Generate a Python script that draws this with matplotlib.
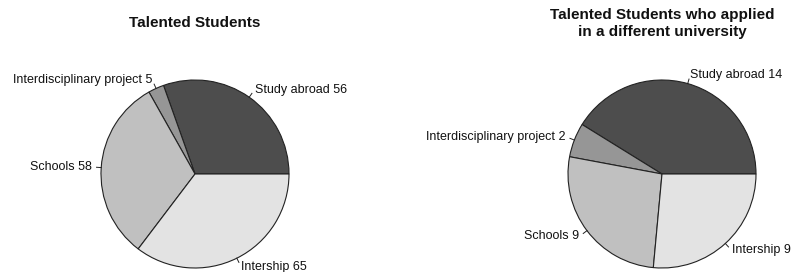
import numpy as np
import matplotlib
matplotlib.use("Agg")
import matplotlib.pyplot as plt

categories = ["Study abroad", "Interdisciplinary project", "Schools", "Intership"]
all_students = [56, 5, 58, 65]
diff_univ = [14, 2, 9, 9]
colors = ["#4D4D4D", "#969696", "#C0C0C0", "#E3E3E3"]
titles = ["Talented Students", "Talented Students who applied\nin a different university"]

W, H = 792, 272
fig = plt.figure(figsize=(W / 100, H / 100), dpi=100)
ax = fig.add_axes([0, 0, 1, 1])
plt.rcParams['font.family'] = ['Liberation Sans', 'DejaVu Sans']

def draw_pie(values, cx, cy, r):
    ax.pie(values, colors=colors, startangle=0, counterclock=True,
           center=(cx, cy), radius=r,
           wedgeprops=dict(edgecolor="#222222", linewidth=0.8))
    total = float(sum(values))
    cum = 0.0
    for cat, v in zip(categories, values):
        mid = (cum + v / 2.0) / total * 2 * np.pi
        cum += v
        c, s = np.cos(mid), np.sin(mid)
        ax.plot([cx + r * c, cx + 1.05 * r * c], [cy + r * s, cy + 1.05 * r * s],
                color="#222222", lw=0.7)
        ax.text(cx + 1.1 * r * c, cy + 1.1 * r * s, f"{cat} {v}",
                ha="left" if c > 0 else "right", va="center",
                fontsize=9, color="#111111")

draw_pie(all_students, 195, H - 174, 94)
draw_pie(diff_univ, 662, H - 174, 94)

ax.text(195, H - 23, titles[0], ha="center", va="center", fontsize=11,
        fontweight="bold", color="#111111")
ax.text(662, H - 23.5, titles[1], ha="center", va="center", fontsize=11,
        fontweight="bold", color="#111111", linespacing=1.2)

ax.set_xlim(0, W)
ax.set_ylim(0, H)
ax.set_aspect("auto")
ax.axis("off")
fig.savefig("out.png", dpi=100, facecolor="white")
